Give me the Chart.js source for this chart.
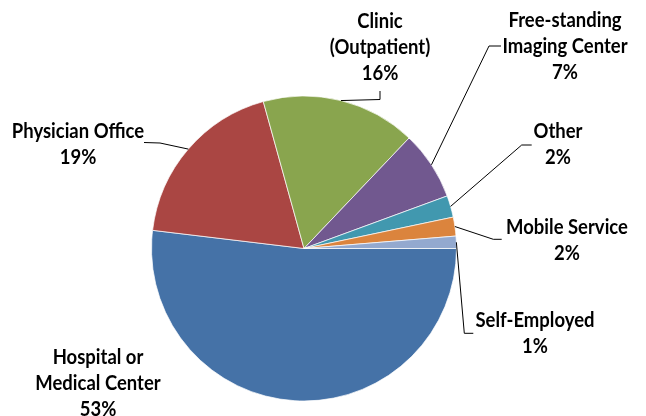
<!DOCTYPE html>
<html>
<head>
<meta charset="utf-8">
<script src="https://cdn.jsdelivr.net/npm/chart.js@4.4.1/dist/chart.umd.min.js"></script>
<style>
  html, body { margin: 0; padding: 0; background: #fff; }
  #wrap { width: 646px; height: 416px; }
</style>
</head>
<body>
<div id="wrap"><canvas id="chart" width="646" height="416"></canvas></div>
<script>
// slices, clockwise from 3 o'clock
const categories = [
    ['Hospital or', 'Medical Center'],
    ['Physician Office'],
    ['Clinic', '(Outpatient)'],
    ['Free-standing', 'Imaging Center'],
    ['Other'],
    ['Mobile Service'],
    ['Self-Employed']
];
const shares = [51.9, 18.8, 16.4, 7.3, 2.3, 2.0, 1.3];
const pctLabels = ['53%', '19%', '16%', '7%', '2%', '2%', '1%'];
const colors = ['#4572A7', '#AA4643', '#89A54E', '#71588F', '#4198AF', '#DB843D', '#93A9CF'];

// where each label sits (center of first line) and the bend of its leader line
const labelLayout = [
    { x: 98, y: 357, leader: null },
    { x: 78, y: 131, leader: [[160, 143], [144, 142.5]] },
    { x: 380, y: 21, leader: [[380, 99.5], [380, 91]] },
    { x: 565, y: 20, leader: [[489, 46], [501, 46]] },
    { x: 558, y: 131, leader: [[521.7, 145], [531.7, 145]] },
    { x: 567, y: 227, leader: [[493.3, 239.3], [501.7, 239.3]] },
    { x: 535, y: 320, leader: [[464.3, 333.3], [473.3, 333.3]] }
];
const lineGap = 26;
const squeeze = 0.88; // narrow the text like the original font

const pieLabels = {
    id: 'pieLabels',
    afterDatasetsDraw(chart) {
        const ctx = chart.ctx;
        const arcs = chart.getDatasetMeta(0).data;
        ctx.save();
        ctx.strokeStyle = '#000';
        ctx.lineWidth = 1;
        arcs.forEach((arc, i) => {
            const lay = labelLayout[i];
            if (lay.leader) {
                const p = arc.getProps(['x', 'y', 'startAngle', 'endAngle', 'outerRadius'], true);
                const mid = (p.startAngle + p.endAngle) / 2;
                ctx.beginPath();
                ctx.moveTo(p.x + Math.cos(mid) * p.outerRadius, p.y + Math.sin(mid) * p.outerRadius);
                lay.leader.forEach(pt => ctx.lineTo(pt[0], pt[1]));
                ctx.stroke();
            }
            const lines = categories[i].concat([pctLabels[i]]);
            ctx.fillStyle = '#000';
            ctx.font = 'bold 21px Lato';
            ctx.textAlign = 'center';
            ctx.textBaseline = 'middle';
            lines.forEach((t, k) => {
                ctx.save();
                ctx.translate(lay.x, lay.y + k * lineGap);
                ctx.scale(squeeze, 1);
                ctx.fillText(t, 0, 0);
                ctx.restore();
            });
        });
        ctx.restore();
    }
};

new Chart(document.getElementById('chart'), {
    type: 'pie',
    data: {
        labels: categories,
        datasets: [{
            data: shares,
            backgroundColor: colors,
            borderColor: 'rgba(255,255,255,0.7)',
            borderWidth: 1
        }]
    },
    options: {
        responsive: false,
        animation: false,
        rotation: 90,
        layout: { padding: { left: 151, right: 189, top: 95.5, bottom: 14.5 } },
        plugins: { legend: { display: false }, tooltip: { enabled: false } }
    },
    plugins: [pieLabels]
});
</script>
</body>
</html>
